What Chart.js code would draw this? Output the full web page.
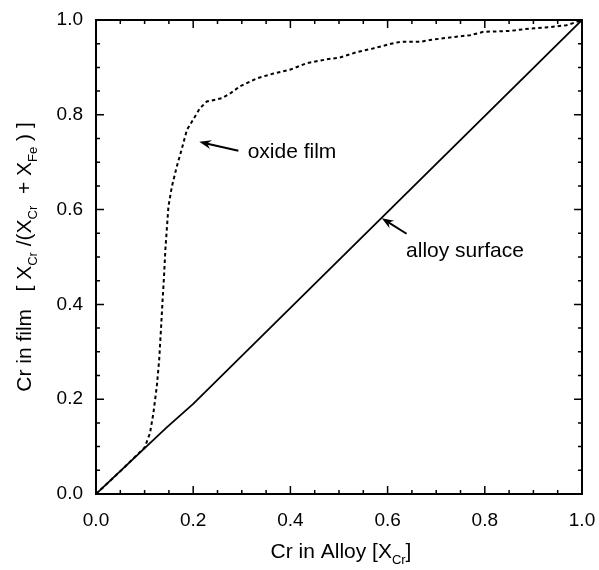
<!DOCTYPE html>
<html><head><meta charset="utf-8">
<script src="https://cdn.jsdelivr.net/npm/chart.js@4/dist/chart.umd.min.js"></script>
<style>html,body{margin:0;padding:0;background:#fff}#wrap{width:599px;height:570px}</style>
</head><body><div id="wrap"><canvas id="c" width="599" height="570"></canvas></div>
<script>
const FONT = '"Liberation Sans", Arial, Helvetica, sans-serif';

// Alloy surface (solid line)
const alloyX = [0, 0.145, 0.2, 1.0];
const alloyY = [0, 0.14, 0.19, 1.0];

// Oxide film (dotted line)
const filmX = [0, 0.05, 0.08, 0.10, 0.111, 0.118, 0.125, 0.130, 0.134, 0.137, 0.140, 0.143, 0.149, 0.156, 0.166, 0.176, 0.187, 0.197, 0.214, 0.228, 0.259, 0.276, 0.296, 0.331, 0.365, 0.399, 0.434, 0.475, 0.502, 0.536, 0.570, 0.612, 0.626, 0.667, 0.687, 0.728, 0.770, 0.797, 0.852, 0.893, 0.934, 0.968, 0.989, 1.0];
const filmY = [0, 0.048, 0.078, 0.098, 0.128, 0.170, 0.226, 0.283, 0.353, 0.409, 0.460, 0.520, 0.606, 0.648, 0.690, 0.726, 0.768, 0.785, 0.814, 0.828, 0.835, 0.845, 0.860, 0.877, 0.887, 0.895, 0.909, 0.917, 0.921, 0.932, 0.940, 0.951, 0.954, 0.954, 0.958, 0.963, 0.968, 0.975, 0.977, 0.982, 0.985, 0.989, 0.996, 1.0];

// Tick values
const majorTicks = [0, 0.2, 0.4, 0.6, 0.8, 1.0];
const minorTicks = [0.05, 0.1, 0.15, 0.25, 0.3, 0.35, 0.45, 0.5, 0.55, 0.65, 0.7, 0.75, 0.85, 0.9, 0.95];

// Texts
const xTitleParts = [{t: 'Cr in Alloy [X'}, {t: 'Cr', sub: true}, {t: ']'}];
const yTitleParts = [{t: 'Cr in film   [ X'}, {t: 'Cr', sub: true}, {t: ' /(X'}, {t: 'Cr', sub: true}, {t: '  + X'}, {t: 'Fe', sub: true}, {t: ' ) ]'}];
const oxideLabel = 'oxide film';
const alloyLabel = 'alloy surface';

const toPts = (xs, ys) => xs.map((x, i) => ({x: x, y: ys[i]}));

function drawRich(ctx, parts, size) {
  const subSize = Math.round(size * 0.62);
  let w = 0;
  parts.forEach(p => { ctx.font = (p.sub ? subSize : size) + 'px ' + FONT; w += ctx.measureText(p.t).width; });
  let x = -w / 2;
  ctx.textBaseline = 'middle';
  ctx.textAlign = 'left';
  parts.forEach(p => {
    ctx.font = (p.sub ? subSize : size) + 'px ' + FONT;
    ctx.fillText(p.t, x, p.sub ? size * 0.38 : 0);
    x += ctx.measureText(p.t).width;
  });
}

function arrow(ctx, x1, y1, x2, y2) {
  const a = Math.atan2(y2 - y1, x2 - x1);
  const L = 12, W = 4.5;
  ctx.beginPath();
  ctx.moveTo(x1, y1);
  ctx.lineTo(x2 - Math.cos(a) * 6, y2 - Math.sin(a) * 6);
  ctx.lineWidth = 2;
  ctx.stroke();
  ctx.beginPath();
  ctx.moveTo(x2, y2);
  ctx.lineTo(x2 - L * Math.cos(a) + W * Math.sin(a), y2 - L * Math.sin(a) - W * Math.cos(a));
  ctx.lineTo(x2 - 8 * Math.cos(a), y2 - 8 * Math.sin(a));
  ctx.lineTo(x2 - L * Math.cos(a) - W * Math.sin(a), y2 - L * Math.sin(a) + W * Math.cos(a));
  ctx.closePath();
  ctx.fill();
}

const framePlugin = {
  id: 'frame',
  afterDraw(chart) {
    const ctx = chart.ctx, a = chart.chartArea;
    const xs = chart.scales.x, ys = chart.scales.y;
    ctx.save();
    ctx.strokeStyle = '#000'; ctx.fillStyle = '#000';
    ctx.lineWidth = 2;
    ctx.strokeRect(a.left, a.top, a.right - a.left, a.bottom - a.top);
    ctx.lineWidth = 1.5;
    const tick = (v, len) => {
      const px = xs.getPixelForValue(v), py = ys.getPixelForValue(v);
      ctx.beginPath();
      ctx.moveTo(px, a.bottom); ctx.lineTo(px, a.bottom - len);
      ctx.moveTo(px, a.top); ctx.lineTo(px, a.top + len);
      ctx.moveTo(a.left, py); ctx.lineTo(a.left + len, py);
      ctx.moveTo(a.right, py); ctx.lineTo(a.right - len, py);
      ctx.stroke();
    };
    majorTicks.forEach(v => tick(v, 8));
    minorTicks.forEach(v => tick(v, 4));

    // axis titles
    ctx.save();
    ctx.translate((a.left + a.right) / 2 + 2, 552);
    drawRich(ctx, xTitleParts, 21);
    ctx.restore();
    ctx.save();
    ctx.translate(25, (a.top + a.bottom) / 2);
    ctx.rotate(-Math.PI / 2);
    drawRich(ctx, yTitleParts, 21);
    ctx.restore();

    // annotations
    const P = (x, y) => [xs.getPixelForValue(x), ys.getPixelForValue(y)];
    let t = P(0.293, 0.724), h = P(0.2126, 0.743);
    arrow(ctx, t[0], t[1], h[0], h[1]);
    t = P(0.639, 0.549); h = P(0.588, 0.582);
    arrow(ctx, t[0], t[1], h[0], h[1]);
    ctx.font = '21px ' + FONT;
    ctx.textBaseline = 'middle'; ctx.textAlign = 'left';
    let p = P(0.312, 0.722);
    ctx.fillText(oxideLabel, p[0], p[1]);
    p = P(0.638, 0.513);
    ctx.fillText(alloyLabel, p[0], p[1]);
    ctx.restore();
  }
};

new Chart(document.getElementById('c'), {
  type: 'scatter',
  data: {
    datasets: [
      {label: 'alloy surface', data: toPts(alloyX, alloyY), showLine: true, borderColor: '#000', borderWidth: 1.8, pointRadius: 0, tension: 0},
      {label: 'oxide film', data: toPts(filmX, filmY), showLine: true, borderColor: '#000', borderWidth: 2, borderDash: [3.5, 3], pointRadius: 0, tension: 0}
    ]
  },
  options: {
    responsive: false,
    devicePixelRatio: 1,
    animation: false,
    layout: {padding: {top: 20, right: 17, bottom: 0, left: 0}},
    plugins: {legend: {display: false}, tooltip: {enabled: false}},
    scales: {
      x: {
        type: 'linear', min: 0, max: 1,
        grid: {display: false, drawTicks: false},
        border: {display: false},
        afterFit(s) { s.height = 76; s.paddingLeft = 0; s.paddingRight = 0; },
        afterBuildTicks(s) { s.ticks = majorTicks.map(v => ({value: v})); },
        ticks: {padding: 15, color: '#000', font: {family: FONT, size: 19}, maxRotation: 0, callback: v => v.toFixed(1)}
      },
      y: {
        type: 'linear', min: 0, max: 1,
        grid: {display: false, drawTicks: false},
        border: {display: false},
        afterFit(s) { s.width = 96; s.paddingTop = 0; s.paddingBottom = 0; },
        afterBuildTicks(s) { s.ticks = majorTicks.map(v => ({value: v})); },
        ticks: {padding: 13, color: '#000', font: {family: FONT, size: 19}, callback: v => v.toFixed(1)}
      }
    }
  },
  plugins: [framePlugin]
});
</script>
</body></html>
